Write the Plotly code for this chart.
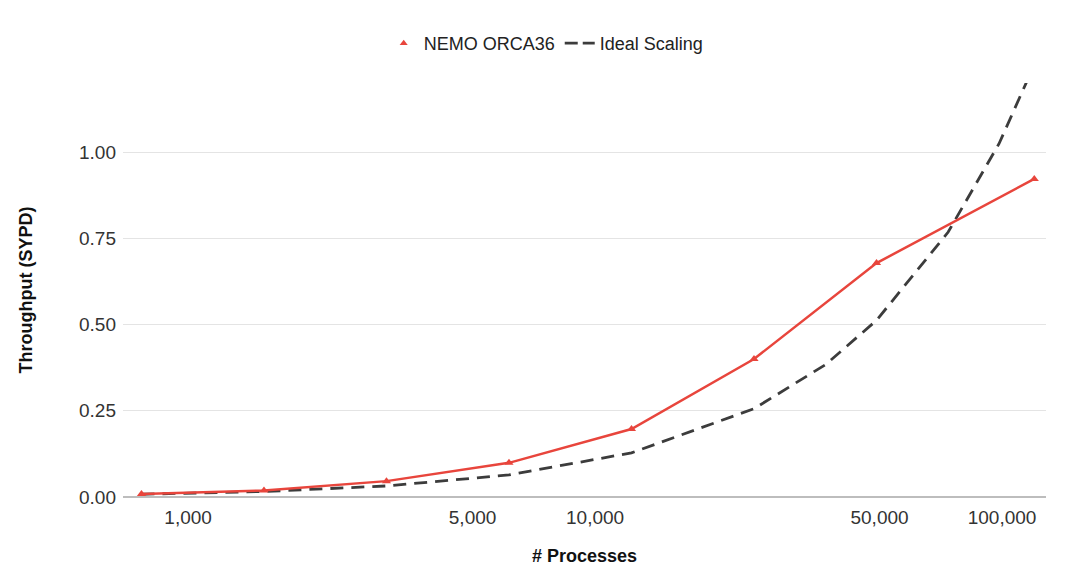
import plotly.graph_objects as go

# Data
nemo_processes = [768, 1536, 3072, 6144, 12288, 24576, 49152, 120000]
nemo_sypd = [0.009, 0.019, 0.046, 0.099, 0.197, 0.400, 0.678, 0.922]

ideal_processes = [768, 1536, 3072, 6144, 12288, 24576, 36864, 49152, 73728, 98304, 122880]
ideal_sypd = [0.008, 0.016, 0.032, 0.064, 0.128, 0.256, 0.384, 0.512, 0.768, 1.024, 1.28]

x_tickvals = [1000, 5000, 10000, 50000, 100000]
x_ticktext = ["1,000", "5,000", "10,000", "50,000", "100,000"]
y_tickvals = [0, 0.25, 0.5, 0.75, 1.0]
y_ticktext = ["0.00", "0.25", "0.50", "0.75", "1.00"]

RED = "#e8453c"
DARK = "#3c3c3c"
FONT = "Liberation Sans, Arial, sans-serif"
DASH = "13px,8px"

fig = go.Figure()

fig.add_trace(go.Scatter(
    x=ideal_processes, y=ideal_sypd, mode="lines", name="Ideal Scaling",
    line=dict(color=DARK, width=2.8, dash=DASH), showlegend=False,
))
fig.add_trace(go.Scatter(
    x=nemo_processes, y=nemo_sypd, mode="lines+markers", name="NEMO ORCA36",
    line=dict(color=RED, width=2.5),
    marker=dict(symbol="triangle-up", size=8, color=RED),
    showlegend=False,
))
# legend entries
fig.add_trace(go.Scatter(
    x=[None], y=[None], mode="markers", name="NEMO ORCA36",
    marker=dict(symbol="triangle-up", size=7, color=RED),
))
fig.add_trace(go.Scatter(
    x=[None], y=[None], mode="lines", name="Ideal Scaling",
    line=dict(color=DARK, width=2.8, dash="13px,5px"),
))

fig.update_layout(
    width=1089, height=566,
    margin=dict(l=115, r=51, t=75, b=77),
    paper_bgcolor="white", plot_bgcolor="white",
    font=dict(family=FONT, size=18, color="#222222"),
    legend=dict(orientation="h", xref="container", x=0.345, xanchor="left",
                yref="container", y=0.97, yanchor="top",
                font=dict(size=18, color="#222222"),
                itemwidth=30, tracegroupgap=0, bgcolor="rgba(0,0,0,0)"),
    showlegend=True,
)

fig.update_xaxes(
    type="log", range=[2.840, 5.108], automargin=False,
    tickvals=x_tickvals, ticktext=x_ticktext,
    showgrid=False, zeroline=False, showline=False, ticks="",
    ticklabelstandoff=7,
    tickfont=dict(size=19, color="#333333"),
    title=dict(text="<b># Processes</b>", font=dict(size=18, color="#111111"), standoff=22),
)
fig.update_yaxes(
    range=[0, 1.2], tickvals=y_tickvals, ticktext=y_ticktext, automargin=False,
    showgrid=True, gridcolor="#e4e4e4", gridwidth=1,
    zeroline=True, zerolinecolor="#bdbdbd", zerolinewidth=2,
    showline=False, ticks="", ticklabelstandoff=6,
    tickfont=dict(size=19, color="#333333"),
    title=dict(text="<b>Throughput (SYPD)</b>", font=dict(size=18, color="#111111"), standoff=41),
)

fig.write_html("out.html")
